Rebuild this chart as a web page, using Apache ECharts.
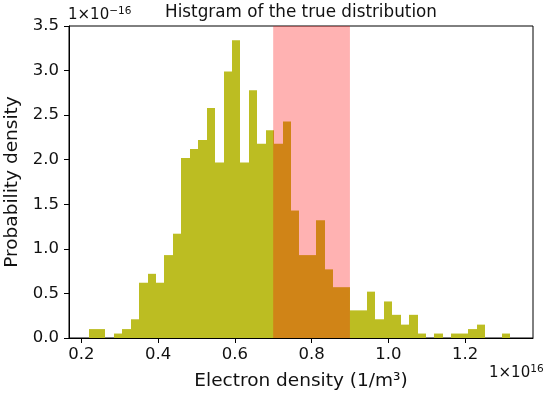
<!DOCTYPE html>
<html>
<head>
<meta charset="utf-8">
<script src="https://cdn.jsdelivr.net/npm/echarts@6/dist/echarts.min.js"></script>
<style>html,body{margin:0;padding:0;background:#fff}#c{width:550px;height:396px}</style>
</head>
<body>
<div id="c"></div>
<script>
// Histogram bins (x in units of 1e16 m^-3)
var binStart = 0.219;
var binWidth = 0.02198;
// Probability density per bin (units of 1e-16)
var density = [
  0.10, 0.10, 0.00, 0.05, 0.10, 0.21, 0.62, 0.72, 0.62, 0.93,
  1.17, 2.02, 2.12, 2.22, 2.58, 1.97, 2.99, 3.34, 1.97, 2.78,
  2.18, 2.33, 2.18, 2.43, 1.43, 0.93, 0.93, 1.32, 0.77, 0.57,
  0.57, 0.31, 0.31, 0.52, 0.21, 0.41, 0.26, 0.15, 0.26, 0.05,
  0.00, 0.05, 0.00, 0.05, 0.05, 0.10, 0.15, 0.00, 0.00, 0.05
];
var spanRange = [0.7, 0.9];
var xTicks = [0.2, 0.4, 0.6, 0.8, 1.0, 1.2];

var barData = density.map(function (v, i) {
  return [binStart + i * binWidth, binStart + (i + 1) * binWidth, v];
});

var FONT = 'DejaVu Sans';
var chart = echarts.init(document.getElementById('c'), null, {renderer: 'canvas'});
chart.setOption({
  animation: false,
  grid: {left: 69, top: 26, right: 17, bottom: 58, containLabel: false, outerBoundsMode: 'none',
    show: true, borderColor: '#000', borderWidth: 1, backgroundColor: 'transparent'},
  xAxis: {
    type: 'value', min: 0.168, max: 1.377,
    axisLine: {show: true, lineStyle: {color: '#000', width: 1}},
    axisTick: {show: true, length: 5, lineStyle: {color: '#000'}, customValues: xTicks},
    axisLabel: {customValues: xTicks, color: '#111', fontFamily: FONT, fontSize: 16.5, margin: 8,
      formatter: function (v) { return v.toFixed(1); }},
    splitLine: {show: false},
    name: 'Electron density (1/m³)', nameLocation: 'middle', nameGap: 34,
    nameTextStyle: {color: '#111', fontFamily: FONT, fontSize: 18.5}
  },
  yAxis: {
    type: 'value', min: 0, max: 3.5, interval: 0.5,
    axisLine: {show: true, lineStyle: {color: '#000', width: 1}},
    axisTick: {show: true, length: 5, lineStyle: {color: '#000'}},
    axisLabel: {color: '#111', fontFamily: FONT, fontSize: 16.5, margin: 10,
      formatter: function (v) { return v.toFixed(1); }},
    splitLine: {show: false},
    name: 'Probability density', nameLocation: 'middle', nameGap: 45,
    nameTextStyle: {color: '#111', fontFamily: FONT, fontSize: 18.5}
  },
  series: [
    {
      type: 'custom', z: 2,
      encode: {x: [0, 1], y: 2},
      data: barData,
      renderItem: function (params, api) {
        var p0 = api.coord([api.value(0), api.value(2)]);
        var p1 = api.coord([api.value(1), 0]);
        var x0 = Math.round(p0[0]), x1 = Math.round(p1[0]);
        return {type: 'rect', shape: {x: x0, y: p0[1], width: x1 - x0, height: p1[1] - p0[1]},
          style: {fill: '#bcbd22'}};
      }
    },
    {
      type: 'custom', z: 3,
      encode: {x: [0, 1]},
      data: [[spanRange[0], spanRange[1]]],
      renderItem: function (params, api) {
        var p0 = api.coord([api.value(0), 3.5]);
        var p1 = api.coord([api.value(1), 0]);
        return {type: 'rect', shape: {x: p0[0], y: p0[1], width: p1[0] - p0[0], height: p1[1] - p0[1]},
          style: {fill: 'rgba(255,0,0,0.3)'}};
      }
    }
  ],
  graphic: [
    {type: 'text', x: 301, y: 13, style: {text: 'Histgram of the true distribution', font: '16.8px "DejaVu Sans"', fill: '#111', align: 'center', verticalAlign: 'middle'}},
    {type: 'text', x: 68, y: 14, style: {text: '{a|1×10}{b|−16}', verticalAlign: 'middle', rich: {a: {font: '15px "DejaVu Sans"', fill: '#111', verticalAlign: 'bottom'}, b: {font: '10.5px "DejaVu Sans"', fill: '#111', verticalAlign: 'top', padding: [0,0,6,0]}}}},
    {type: 'text', x: 489, y: 372, style: {text: '{a|1×10}{b|16}', verticalAlign: 'middle', rich: {a: {font: '15px "DejaVu Sans"', fill: '#111', verticalAlign: 'bottom'}, b: {font: '10.5px "DejaVu Sans"', fill: '#111', verticalAlign: 'top', padding: [0,0,6,0]}}}}
  ]
});
</script>
</body>
</html>
